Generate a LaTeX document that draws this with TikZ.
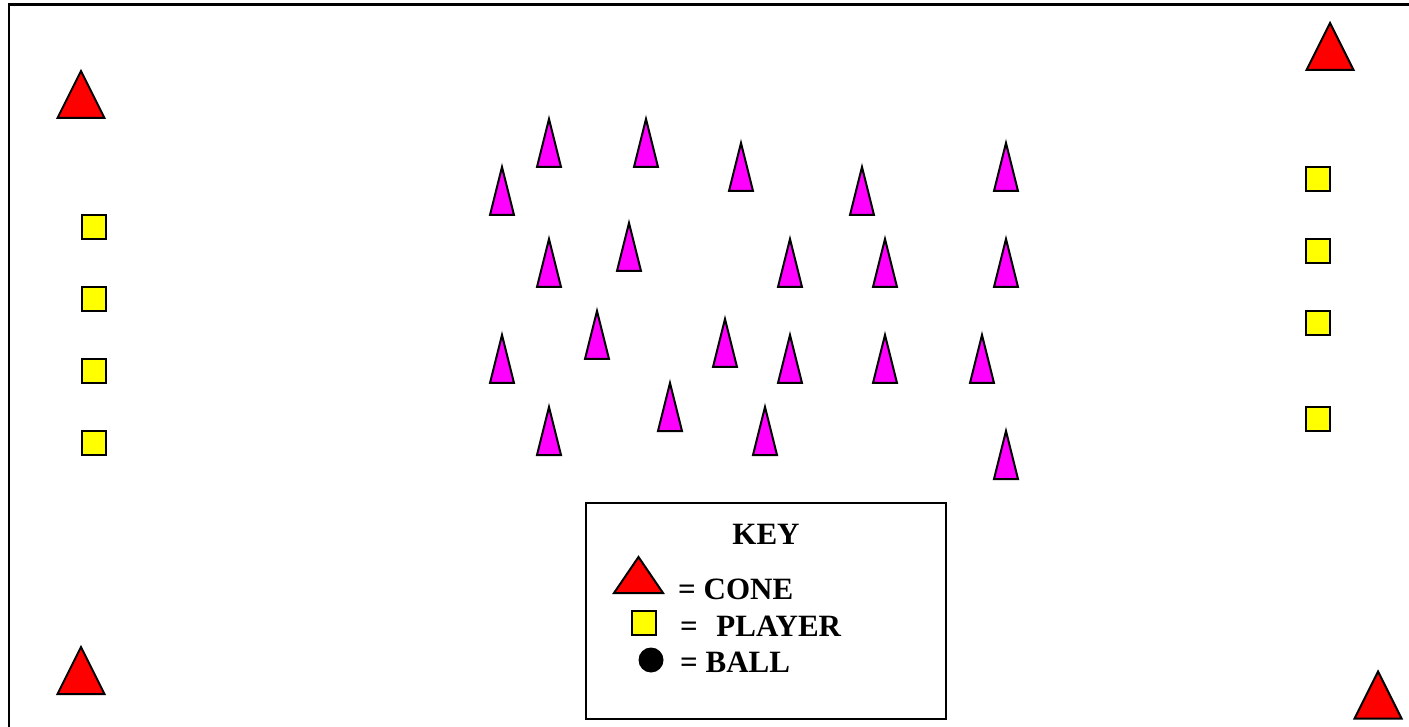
\documentclass[tikz,border=0pt]{standalone}
\usepackage{fontspec}
\setmainfont{Liberation Serif}
\begin{document}
\begin{tikzpicture}[x=1pt,y=-1pt,
  outline/.style={draw=black,line width=2pt,line join=miter},
  pinkcone/.pic={\draw[outline,fill={rgb,255:red,255;green,0;blue,255}] (-12,24)--(0,-24)--(12,24)--cycle;},
  redcone/.pic={\draw[outline,fill={rgb,255:red,255;green,0;blue,0}] (-23.5,23.5)--(0,-23.5)--(23.5,23.5)--cycle;},
  player/.style={outline,fill={rgb,255:red,255;green,255;blue,0},minimum size=24pt,inner sep=0pt,shape=rectangle},
  keytext/.style={font=\fontsize{31}{36}\bfseries\selectfont,inner sep=0pt,anchor=base west}]
\useasboundingbox (0,0) rectangle (1409,727);
\fill[white] (0,0) rectangle (1409,727);
% field border
\draw[line width=2.4pt] (9,727) -- (9,4.5) -- (1409,4.5);
% corner cones
\pic at (81,94.5) {redcone};
\pic at (1330,46.5) {redcone};
\pic at (81,670.5) {redcone};
\pic at (1378,695) {redcone};
% players
\foreach \y [count=\i] in {227,299,371,443} \node[player] (pl\i) at (94,\y) {};
\foreach \y [count=\i] in {179,251,323,419} \node[player] (pr\i) at (1318,\y) {};
% magenta cones
\foreach \x/\y in {502/191,549/143,646/143,741/167,862/191,1006/167,
  549/263,629/247,790/263,885/263,1006/263,
  502/359,597/335,725/343,790/359,885/359,982/359,
  549/431,670/407,765/431,1006/455}
  \pic at (\x,\y) {pinkcone};
% key
\node[draw,line width=2pt,minimum width=360pt,minimum height=216pt,inner sep=0pt] (key) at (766,611) {};
\node[font=\fontsize{31}{36}\bfseries\selectfont,inner sep=0pt,anchor=base] (keytitle) at (766,544) {KEY};
\draw[outline,fill={rgb,255:red,255;green,0;blue,0}] (614,593)--(638.5,557)--(663,593)--cycle;
\node[keytext] (kcone) at (678,599) {= CONE};
\node[player,minimum size=24pt] (kplayer) at (643.5,623) {};
\node[keytext] (kplay) at (680,636) {=\hspace{0.6em}PLAYER};
\fill[black] (651,660) circle (12.5);
\node[keytext] (kball) at (680,672) {= BALL};
\end{tikzpicture}
\end{document}
